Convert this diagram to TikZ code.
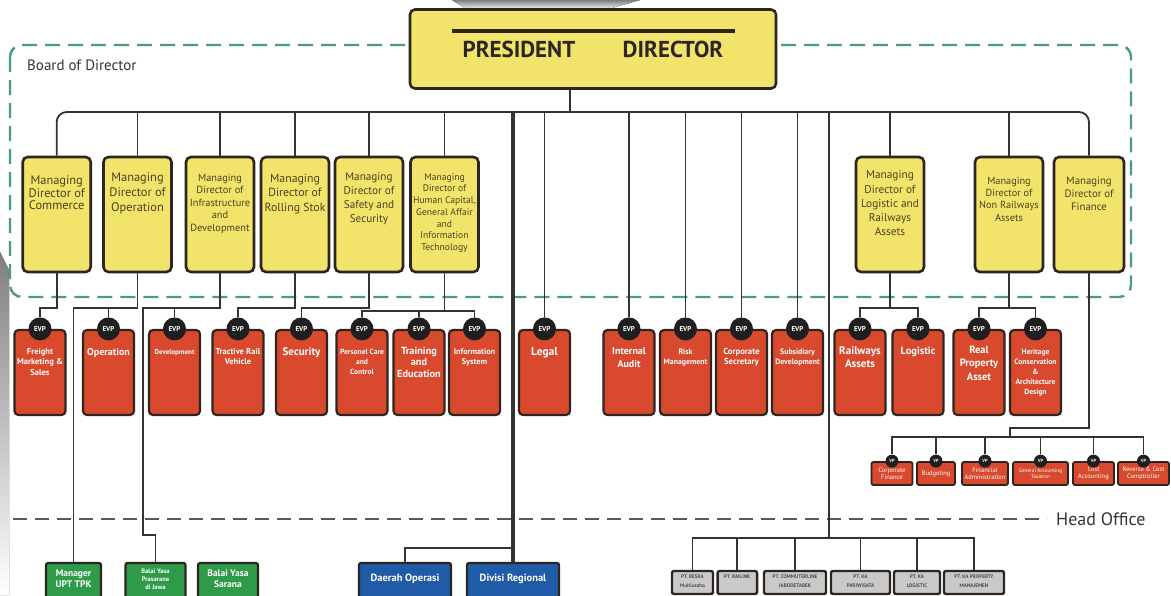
\documentclass[tikz,border=0pt]{standalone}
\usepackage{fontspec}
\setmainfont{PT Sans}
\usetikzlibrary{positioning}
\definecolor{mdyellow}{HTML}{F2E46A}
\definecolor{evpred}{HTML}{D8492D}
\definecolor{boxline}{HTML}{2C2520}
\definecolor{linegray}{HTML}{333333}
\definecolor{boardteal}{HTML}{4A9A8A}
\definecolor{txtbrown}{HTML}{4B4220}
\definecolor{opgreen}{HTML}{2E9B48}
\definecolor{regblue}{HTML}{1F5BA6}
\definecolor{ptgray}{HTML}{C9C9C9}
\definecolor{shade}{HTML}{E6E6E6}
\newcommand{\fsz}[2]{\fontsize{#1}{#2}\selectfont}

\begin{document}
\begin{tikzpicture}[x=1pt,y=-1pt]
\tikzstyle{every node}+=[inner sep=0pt]
\tikzstyle{conn}=[draw=linegray, line width=1.8pt]
\tikzstyle{mdbox}=[rectangle, rounded corners=5pt, draw=boxline, line width=2.6pt, fill=mdyellow, minimum width=68pt, minimum height=115pt]
\tikzstyle{mdtext}=[align=center, text=txtbrown]
\tikzstyle{evpbox}=[rectangle, rounded corners=4pt, draw=boxline, line width=2.2pt, fill=evpred, minimum width=51pt, minimum height=85pt]
\tikzstyle{evpdot}=[circle, fill=black!88, minimum size=23pt, text=white, font=\bfseries\fsz{7}{8}]
\tikzstyle{evptext}=[align=center, text=white]
\tikzstyle{vpbox}=[rectangle, rounded corners=2pt, draw=boxline, line width=1.8pt, fill=evpred, minimum height=23pt, text=white, align=center, font=\fsz{6.5}{7.5}]
\tikzstyle{vpdot}=[circle, fill=black!88, minimum size=13pt, text=white, font=\bfseries\fsz{4.5}{5}]
\tikzstyle{unitbox}=[rectangle, rounded corners=2pt, draw=boxline, line width=2.2pt, minimum height=40pt]
\tikzstyle{unittext}=[align=center, text=white, font=\bfseries]
\tikzstyle{ptbox}=[rectangle, rounded corners=2pt, draw=boxline, line width=2.4pt, fill=ptgray, minimum height=23pt]
\tikzstyle{pttext}=[align=center, text=black!70, font=\bfseries\fsz{5.2}{8.5}]

\useasboundingbox (0,0) rectangle (1171,595);
\clip (0,0) rectangle (1171,595);

% watermark shading
\fill[shade] (452,0) -- (640,0) -- (605,10) -- (468,10) -- cycle;
\fill[shade] (0,252) -- (9,270) -- (9,595) -- (0,595) -- cycle;

% board of director and head office
\draw[boardteal, line width=2.4pt, dash pattern=on 15pt off 8pt, rounded corners=12pt] (10,45) rectangle (1131,297);
\node[anchor=west, text=black!80, font=\fsz{15}{17}] (board) at (27,65) {Board of Director};
\draw[black!65, line width=2.5pt, dash pattern=on 14pt off 8pt] (13,519) -- (1047,519);
\node[anchor=west, text=black!80, font=\fsz{18}{20}] (head) at (1056,519) {Head Office};

% president director
\node[rectangle, rounded corners=5pt, draw=boxline, line width=2.6pt, fill=mdyellow, minimum width=366pt, minimum height=79pt] (pd) at (593,49) {};
\draw[boxline, line width=4pt] (452,31) -- (735,31);
\node[font=\bfseries\fsz{23}{26}, text=boxline] (pres) at (519,49) {PRESIDENT};
\node[font=\bfseries\fsz{23}{26}, text=boxline] (dir) at (673,49) {DIRECTOR};
\coordinate (bus) at (570,112);

% managing directors
\node[mdbox] (md1) at (56.7,214.5) {};
\node[mdbox] (md2) at (137.5,214.5) {};
\node[mdbox] (md3) at (220,214.5) {};
\node[mdbox] (md4) at (295,214.5) {};
\node[mdbox] (md5) at (369,214.5) {};
\node[mdbox] (md6) at (444.5,214.5) {};
\node[mdbox] (md7) at (890,214.5) {};
\node[mdbox] (md8) at (1009,214.5) {};
\node[mdbox, minimum width=70pt] (md9) at (1089,214.5) {};
\node[mdtext, font=\fsz{12.4}{12.5}, below=20pt of md1.north] (md1t) {Managing\\Director of\\Commerce};
\node[mdtext, font=\fsz{12.4}{15}, below=16.5pt of md2.north] (md2t) {Managing\\Director of\\Operation};
\node[mdtext, font=\fsz{10.4}{12.5}, below=18pt of md3.north] (md3t) {Managing\\Director of\\Infrastructure\\and\\Development};
\node[mdtext, font=\fsz{11.8}{14.5}, below=18pt of md4.north] (md4t) {Managing\\Director of\\Rolling Stok};
\node[mdtext, font=\fsz{11.2}{14}, below=17pt of md5.north] (md5t) {Managing\\Director of\\Safety and\\Security};
\node[mdtext, font=\fsz{9.6}{11.7}, below=17.5pt of md6.north] (md6t) {Managing\\Director of\\Human Capital,\\General Affair\\and\\Information\\Technology};
\node[mdtext, font=\fsz{11.3}{14.2}, below=15pt of md7.north] (md7t) {Managing\\Director of\\Logistic and\\Railways\\Assets};
\node[mdtext, font=\fsz{10.3}{12.3}, below=21pt of md8.north] (md8t) {Managing\\Director of\\Non Railways\\Assets};
\node[mdtext, font=\fsz{10.8}{13}, below=21pt of md9.north] (md9t) {Managing\\Director of\\Finance};

% executive vice presidents
\node[evpbox] (e1) at (40,372.5) {};
\node[evpbox] (e2) at (108.5,372.5) {};
\node[evpbox] (e3) at (174.5,372.5) {};
\node[evpbox] (e4) at (238,372.5) {};
\node[evpbox] (e5) at (301.5,372.5) {};
\node[evpbox] (e6) at (362,372.5) {};
\node[evpbox] (e7) at (419,372.5) {};
\node[evpbox] (e8) at (474.5,372.5) {};
\node[evpbox] (e9) at (544.5,372.5) {};
\node[evpbox] (e10) at (629,372.5) {};
\node[evpbox] (e11) at (685.5,372.5) {};
\node[evpbox] (e12) at (741.5,372.5) {};
\node[evpbox] (e13) at (797.5,372.5) {};
\node[evpbox] (e14) at (860,372.5) {};
\node[evpbox] (e15) at (918,372.5) {};
\node[evpbox] (e16) at (979,372.5) {};
\node[evpbox] (e17) at (1035.5,372.5) {};
\foreach \e in {e1,e2,e3,e4,e5,e6,e7,e8,e9,e10,e11,e12,e13,e14,e15,e16,e17}
  \node[evpdot] (\e d) at (\e.north) {EVP};
\node[evptext, font=\bfseries\fsz{8.5}{10.5}, below=19pt of e1.north] (e1t) {Freight\\Marketing \&\\Sales};
\node[evptext, font=\bfseries\fsz{10}{11}, below=19pt of e2.north] (e2t) {Operation};
\node[evptext, font=\bfseries\fsz{7}{8}, below=20pt of e3.north] (e3t) {Development};
\node[evptext, font=\bfseries\fsz{8.5}{10}, below=19pt of e4.north] (e4t) {Tractive Rail\\Vehicle};
\node[evptext, font=\bfseries\fsz{11}{12}, below=18.5pt of e5.north] (e5t) {Security};
\node[evptext, font=\bfseries\fsz{7.5}{10}, below=20pt of e6.north] (e6t) {Personel Care\\and\\Control};
\node[evptext, font=\bfseries\fsz{10.3}{11.5}, below=18pt of e7.north] (e7t) {Training\\and\\Education};
\node[evptext, font=\bfseries\fsz{8.2}{10}, below=20pt of e8.north] (e8t) {Information\\System};
\node[evptext, font=\bfseries\fsz{11.5}{13}, below=18pt of e9.north] (e9t) {Legal};
\node[evptext, font=\bfseries\fsz{10}{13}, below=18pt of e10.north] (e10t) {Internal\\Audit};
\node[evptext, font=\bfseries\fsz{7.8}{10}, below=20pt of e11.north] (e11t) {Risk\\Management};
\node[evptext, font=\bfseries\fsz{8.7}{10.5}, below=19pt of e12.north] (e12t) {Corporate\\Secretary};
\node[evptext, font=\bfseries\fsz{7.8}{10}, below=20pt of e13.north] (e13t) {Subsidiary\\Development};
\node[evptext, font=\bfseries\fsz{11}{13}, below=18pt of e14.north] (e14t) {Railways\\Assets};
\node[evptext, font=\bfseries\fsz{10.5}{13}, below=18pt of e15.north] (e15t) {Logistic};
\node[evptext, font=\bfseries\fsz{10.5}{13.3}, below=17pt of e16.north] (e16t) {Real\\Property\\Asset};
\node[evptext, font=\bfseries\fsz{7.6}{10}, below=20pt of e17.north] (e17t) {Heritage\\Conservation\\\&\\Architecture\\Design};

% vice presidents of finance
\node[vpbox, minimum width=41pt] (v1) at (892,473.5) {Corporate\\Finance};
\node[vpbox, minimum width=38pt] (v2) at (936,473.5) {Budgeting};
\node[vpbox, minimum width=46pt] (v3) at (985,473.5) {Financial\\Administration};
\node[vpbox, minimum width=55pt, font=\fsz{5.2}{6.5}] (v4) at (1040.5,473.5) {General Accounting\\Taxation};
\node[vpbox, minimum width=41pt] (v5) at (1093.5,473.5) {Cost\\Accounting};
\node[vpbox, minimum width=51pt] (v6) at (1143.5,473.5) {Reverse \& Cost\\Comptroller};
\foreach \v in {v1,v2,v3,v4,v5,v6}
  \node[vpdot] (\v d) at (\v.north) {VP};

% units below head office
\node[unitbox, fill=opgreen, minimum width=55pt] (mgr) at (73.5,583) {};
\node[unitbox, fill=opgreen, minimum width=60pt] (byp) at (155.5,583) {};
\node[unitbox, fill=opgreen, minimum width=60pt] (bys) at (228,583) {};
\node[unitbox, fill=regblue, minimum width=92pt] (dao) at (405,583) {};
\node[unitbox, fill=regblue, minimum width=92pt] (dvr) at (513,583) {};
\node[unittext, font=\bfseries\fsz{9.5}{11}, below=8pt of mgr.north] (mgrt) {Manager\\UPT TPK};
\node[unittext, font=\bfseries\fsz{6.5}{8}, below=6.5pt of byp.north] (bypt) {Balai Yasa\\Prasarana\\di Jawa};
\node[unittext, font=\bfseries\fsz{9.5}{11}, below=8pt of bys.north] (byst) {Balai Yasa\\Sarana};
\node[unittext, font=\bfseries\fsz{10.5}{12}, below=11.5pt of dao.north] (daot) {Daerah Operasi};
\node[unittext, font=\bfseries\fsz{10.5}{12}, below=11.5pt of dvr.north] (dvrt) {Divisi Regional};

% subsidiaries
\node[ptbox, minimum width=41pt] (pt1) at (692.5,582.5) {};
\node[ptbox, minimum width=39.5pt] (pt2) at (737.3,582.5) {};
\node[ptbox, minimum width=62pt] (pt3) at (795,582.5) {};
\node[ptbox, minimum width=59pt] (pt4) at (860.5,582.5) {};
\node[ptbox, minimum width=46pt] (pt5) at (917,582.5) {};
\node[ptbox, minimum width=60pt] (pt6) at (974,582.5) {};
\node[pttext, below=5pt of pt1.north] (pt1t) {PT. RESKA\\Multiusaha};
\node[pttext, below=5pt of pt2.north] (pt2t) {PT. RAILINK};
\node[pttext, below=5pt of pt3.north] (pt3t) {PT. COMMUTERLINE\\JABODETABEK};
\node[pttext, below=5pt of pt4.north] (pt4t) {PT. KA\\PARIWISATA};
\node[pttext, below=5pt of pt5.north] (pt5t) {PT. KA\\LOGISTIC};
\node[pttext, below=5pt of pt6.north] (pt6t) {PT. KA PROPERTY\\MANAJEMEN};

% connectors
\coordinate (evpbus) at (0,308);
\coordinate (hcbus) at (0,311);
\coordinate (byjog) at (143,535);
\coordinate (finjog) at (1010,428);
\coordinate (vpbus) at (0,437);
\coordinate (ptbus) at (829,538);
\coordinate (dabranch) at (513,548);
\draw[conn] (bus) -- (bus |- pd.south);
\draw[conn, rounded corners=10pt] (md1.north) -- (md1.north |- bus) -- (md9.north |- bus) -- (md9.north);
\foreach \m in {md2,md3,md4,md5,md6,md7,md8}
  \draw[conn] (\m.north) -- (\m.north |- bus);
\foreach \e in {e9d,e10d,e11d,e12d,e13d}
  \draw[conn] (\e.north) -- (\e.north |- bus);
\draw[conn] (md1.south) -- (md1.south |- evpbus) -| (e1d.north);
\draw[conn] (md2.south) -- (md2.south |- evpbus) -| (mgr.north);
\draw[conn] (e2d.north) -- (e2d.north |- evpbus);
\draw[conn] (md3.south) -- (md3.south |- evpbus) -| (byjog) -| (byp.north);
\draw[conn] (e3d.north) -- (e3d.north |- evpbus);
\draw[conn] (md4.south) -- (md4.south |- evpbus) -| (e4d.north);
\draw[conn] (md5.south) -- (md5.south |- evpbus) -| (e5d.north);
\draw[conn] (md6.south) -- (md6.south |- hcbus);
\draw[conn] (e6d.north) |- (e8d.north |- hcbus) -- (e8d.north);
\draw[conn] (e7d.north) -- (e7d.north |- hcbus);
\draw[conn] (md7.south) -- (md7.south |- evpbus);
\draw[conn] (e14d.north) |- (e15d.north |- evpbus) -- (e15d.north);
\draw[conn] (md8.south) -- (md8.south |- evpbus);
\draw[conn] (e16d.north) |- (e17d.north |- evpbus) -- (e17d.north);
\draw[conn] (md9.south) |- (finjog) -- (finjog |- vpbus);
\draw[conn] (v1d.north) |- (v6d.north |- vpbus) -- (v6d.north);
\foreach \v in {v2d,v3d,v4d,v5d}
  \draw[conn] (\v.north) -- (\v.north |- vpbus);
\draw[conn, line width=3.5pt] (dvr.north) -- (dvr.north |- bus);
\draw[conn] (dao.north) |- (dabranch);
\draw[conn] (ptbus) -- (ptbus |- bus);
\draw[conn] (pt1.north) |- (pt6.north |- ptbus) -- (pt6.north);
\foreach \p in {pt2,pt3,pt4,pt5}
  \draw[conn] (\p.north) -- (\p.north |- ptbus);
\end{tikzpicture}
\end{document}
